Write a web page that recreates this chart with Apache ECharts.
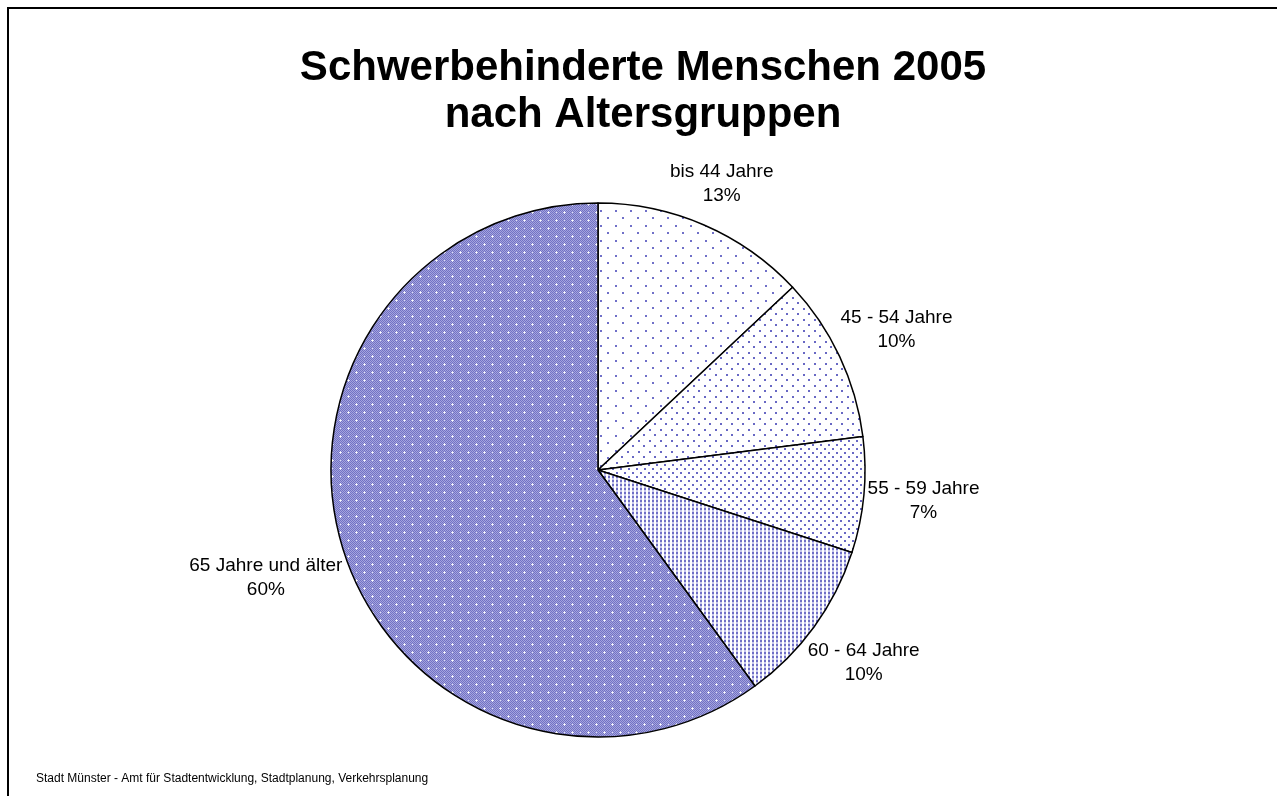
<!DOCTYPE html>
<html>
<head>
<meta charset="utf-8">
<script src="https://cdn.jsdelivr.net/npm/echarts@6/dist/echarts.min.js"></script>
<style>
  html, body { margin: 0; padding: 0; background: #fff; }
  #chart { width: 1277px; height: 796px; }
</style>
</head>
<body>
<div id="chart"></div>
<script>
var titleLines = ['Schwerbehinderte Menschen 2005', 'nach Altersgruppen'];
var categories = ['bis 44 Jahre', '45 - 54 Jahre', '55 - 59 Jahre', '60 - 64 Jahre', '65 Jahre und älter'];
var shares = [13, 10, 7, 10, 60];
var source = 'Stadt Münster - Amt für Stadtentwicklung, Stadtplanung, Verkehrsplanung';

// pie geometry (pixels)
var cx = 598, cy = 470, R = 267, labelGap = 2;

// small canvas tiles for the Excel-like fill patterns
function tile(w, h, draw) {
  var c = document.createElement('canvas');
  c.width = w; c.height = h;
  var ctx = c.getContext('2d');
  ctx.fillStyle = '#fff';
  ctx.fillRect(0, 0, w, h);
  draw(ctx);
  return { image: c, repeat: 'repeat' };
}
function px(ctx, x, y, col, s) {
  ctx.fillStyle = col;
  ctx.fillRect(x, y, s || 1, s || 1);
}

var patterns = [
  tile(15, 15, function(ctx){
    px(ctx, 0, 0, '#7070c8', 2); px(ctx, 7, 7, '#7070c8', 2);
  }),
  tile(11, 11, function(ctx){
    px(ctx, 0, 0, '#6868c4', 2); px(ctx, 5, 5, '#6868c4', 2);
  }),
  tile(8, 8, function(ctx){
    px(ctx, 0, 0, '#6868c4', 2); px(ctx, 4, 4, '#6868c4', 2);
  }),
  tile(4, 4, function(ctx){
    px(ctx, 0, 0, '#7070c6', 2); px(ctx, 0, 2, '#c8c8ee', 2);
  }),
  tile(16, 16, function(ctx){
    for (var y = 0; y < 16; y++) {
      for (var x = 0; x < 16; x++) {
        px(ctx, x, y, (x + y) % 2 ? '#a4a4de' : '#7272c4');
      }
    }
    [[4, 4], [12, 12]].forEach(function(p){
      px(ctx, p[0], p[1], '#ffffff');
      px(ctx, p[0] - 1, p[1], '#e4e4f6'); px(ctx, p[0] + 1, p[1], '#e4e4f6');
      px(ctx, p[0], p[1] - 1, '#e4e4f6'); px(ctx, p[0], p[1] + 1, '#e4e4f6');
    });
    px(ctx, 12, 4, '#dcdcf4'); px(ctx, 4, 12, '#dcdcf4');
  })
];

var total = shares.reduce(function(a, b){ return a + b; }, 0);
function midAngle(i) {
  var before = 0;
  for (var k = 0; k < i; k++) before += shares[k];
  return (before + shares[i] / 2) / total * 2 * Math.PI;
}

var chart = echarts.init(document.getElementById('chart'), null, { renderer: 'canvas' });
chart.setOption({
  animation: false,
  backgroundColor: '#fff',
  title: {
    text: titleLines.join('\n'),
    left: 638,
    top: 40,
    textAlign: 'center',
    textStyle: {
      fontFamily: 'Liberation Sans, Arial, sans-serif',
      fontWeight: 'bold',
      fontSize: 42,
      lineHeight: 47,
      color: '#000'
    }
  },
  graphic: [
    {
      type: 'rect',
      shape: { x: 8, y: 8, width: 1280, height: 800 },
      style: { fill: 'none', stroke: '#000', lineWidth: 2 },
      silent: true
    },
    {
      type: 'text',
      left: 36,
      top: 773,
      style: {
        text: source,
        font: '12px Liberation Sans, Arial, sans-serif',
        fill: '#000'
      },
      silent: true
    }
  ],
  series: [{
    type: 'pie',
    center: [cx, cy],
    radius: R,
    startAngle: 90,
    clockwise: true,
    emphasis: { disabled: true },
    itemStyle: { borderColor: '#000', borderWidth: 1.5 },
    label: {
      show: true,
      position: 'outside',
      formatter: function(p){ return p.name + '\n' + p.value + '%'; },
      fontFamily: 'Liberation Sans, Arial, sans-serif',
      fontSize: 19,
      lineHeight: 24,
      color: '#000'
    },
    labelLine: { show: false },
    // centre each label outside the rim along the slice's middle angle,
    // pushed out by the label box's extent in that direction
    labelLayout: function(p){
      var a = midAngle(p.dataIndex);
      var s = Math.sin(a), c = Math.cos(a);
      var ext = p.labelRect.width / 2 * Math.abs(s) + p.labelRect.height / 2 * Math.abs(c);
      var d = R + labelGap + ext;
      return {
        x: cx + d * s,
        y: cy - d * c,
        align: 'center',
        verticalAlign: 'middle'
      };
    },
    data: categories.map(function(c, i){
      return { name: c, value: shares[i], itemStyle: { color: patterns[i] } };
    })
  }]
});
</script>
</body>
</html>
